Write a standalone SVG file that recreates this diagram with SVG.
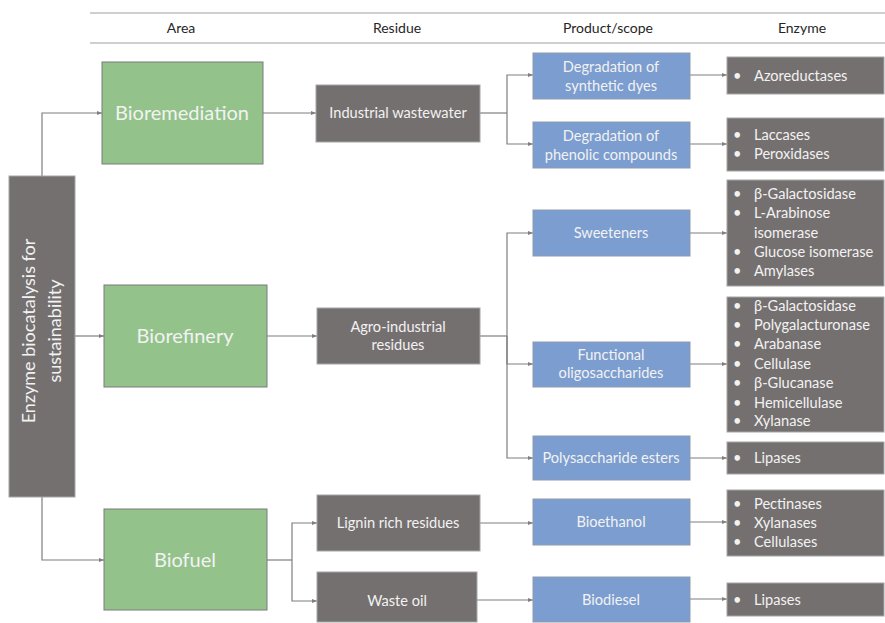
<svg xmlns="http://www.w3.org/2000/svg" width="885" height="623" viewBox="0 0 885 623">
<defs>
<marker id="ah" viewBox="0 0 10 10" refX="10" refY="5" markerWidth="5" markerHeight="5" orient="auto" markerUnits="userSpaceOnUse">
<path d="M0,1 L10,5 L0,9 z" fill="#7f7f7f"/>
</marker>
<style>
text{font-family:Lato,"Open Sans","Liberation Sans",sans-serif;}
.hdr{font-size:14px;fill:#262626;text-anchor:middle;}
.gray{fill:#757070;stroke:#a6a6a6;stroke-width:1;}
.green{fill:#93c38b;stroke:#7a7a7a;stroke-width:1;}
.blue{fill:#7b9dd0;stroke:#8f9bb0;stroke-width:1;}
.wt{fill:#f2f2f2;font-size:14.6px;text-anchor:middle;}
.big{fill:#f2f2f2;font-size:20px;text-anchor:middle;}
.main{fill:#f2f2f2;font-size:18px;text-anchor:middle;}
.en{fill:#f2f2f2;font-size:14.6px;}
.conn path{fill:none;stroke:#7f7f7f;stroke-width:1.2;}
.conn path.a{marker-end:url(#ah);}
</style>
</defs>
<rect width="885" height="623" fill="#ffffff"/>
<g id="header">
<line x1="90" y1="13" x2="885" y2="13" stroke="#bfbfbf" stroke-width="1.5"/>
<line x1="90" y1="43" x2="885" y2="43" stroke="#bfbfbf" stroke-width="1.5"/>
<text class="hdr" x="181" y="33">Area</text>
<text class="hdr" x="397" y="33">Residue</text>
<text class="hdr" x="608" y="33">Product/scope</text>
<text class="hdr" x="802" y="33">Enzyme</text>
</g>
<g class="conn" id="connectors">
<path class="a" d="M42,176 V113 H102"/>
<path class="a" d="M75,336 H104"/>
<path class="a" d="M42,497 V560 H104"/>
<path class="a" d="M263,113 H316"/>
<path class="a" d="M267,336 H317"/>
<path d="M267,560 H292"/>
<path class="a" d="M292,560 V523 H317"/>
<path class="a" d="M292,560 V601 H317"/>
<path d="M480,113 H507"/>
<path class="a" d="M507,113 V75 H533"/>
<path class="a" d="M507,113 V144 H533"/>
<path d="M480,336 H507"/>
<path class="a" d="M507,336 V233 H533"/>
<path class="a" d="M507,336 V364 H533"/>
<path class="a" d="M507,336 V458 H533"/>
<path class="a" d="M480,523 H533"/>
<path class="a" d="M477,600 H533"/>
<path class="a" d="M690,75 H727"/>
<path class="a" d="M690,144 H727"/>
<path class="a" d="M690,233 H727"/>
<path class="a" d="M690,364 H727"/>
<path class="a" d="M690,458 H727"/>
<path class="a" d="M690,522 H727"/>
<path class="a" d="M690,599 H727"/>
</g>
<g id="root">
<rect class="gray" x="9" y="176" width="66" height="321"/>
<text class="main" transform="translate(35,331) rotate(-90)">Enzyme biocatalysis for</text>
<text class="main" transform="translate(61,331) rotate(-90)">sustainability</text>
</g>
<g id="bioremediation">
<rect class="green" x="102" y="62" width="161" height="102"/>
<text class="big" x="182" y="120">Bioremediation</text>
</g>
<g id="biorefinery">
<rect class="green" x="104" y="285" width="163" height="102"/>
<text class="big" x="185" y="343">Biorefinery</text>
</g>
<g id="biofuel">
<rect class="green" x="104" y="509" width="163" height="101"/>
<text class="big" x="185" y="567">Biofuel</text>
</g>
<g id="industrial-wastewater">
<rect class="gray" x="316" y="85" width="164" height="57"/>
<text class="wt" x="398" y="118">Industrial wastewater</text>
</g>
<g id="agro-industrial">
<rect class="gray" x="317" y="308" width="163" height="56"/>
<text class="wt" x="398" y="332">Agro-industrial</text>
<text class="wt" x="398" y="350">residues</text>
</g>
<g id="lignin">
<rect class="gray" x="317" y="495" width="163" height="56"/>
<text class="wt" x="398" y="528">Lignin rich residues</text>
</g>
<g id="waste-oil">
<rect class="gray" x="317" y="572" width="160" height="50"/>
<text class="wt" x="397" y="606">Waste oil</text>
</g>
<g id="synthetic-dyes">
<rect class="blue" x="533" y="53" width="157" height="46"/>
<text class="wt" x="611" y="72">Degradation of</text>
<text class="wt" x="611" y="91">synthetic dyes</text>
</g>
<g id="phenolic">
<rect class="blue" x="533" y="122" width="157" height="46"/>
<text class="wt" x="611" y="141">Degradation of</text>
<text class="wt" x="611" y="160">phenolic compounds</text>
</g>
<g id="sweeteners">
<rect class="blue" x="533" y="210" width="157" height="46"/>
<text class="wt" x="611" y="238">Sweeteners</text>
</g>
<g id="functional">
<rect class="blue" x="533" y="342" width="157" height="45"/>
<text class="wt" x="611" y="360">Functional</text>
<text class="wt" x="611" y="378">oligosaccharides</text>
</g>
<g id="polysaccharide-esters">
<rect class="blue" x="533" y="436" width="157" height="44"/>
<text class="wt" x="611" y="463">Polysaccharide esters</text>
</g>
<g id="bioethanol">
<rect class="blue" x="533" y="499" width="157" height="46"/>
<text class="wt" x="611" y="527">Bioethanol</text>
</g>
<g id="biodiesel">
<rect class="blue" x="533" y="577" width="157" height="45"/>
<text class="wt" x="611" y="605">Biodiesel</text>
</g>
<g id="enz-azo">
<rect class="gray" x="727" y="57" width="157" height="37"/>
<text class="en" x="733" y="81">•</text><text class="en" x="754" y="81">Azoreductases</text>
</g>
<g id="enz-phenolic">
<rect class="gray" x="727" y="118" width="157" height="53"/>
<text class="en" x="733" y="140">•</text><text class="en" x="754" y="140">Laccases</text>
<text class="en" x="733" y="159">•</text><text class="en" x="754" y="159">Peroxidases</text>
</g>
<g id="enz-sweeteners">
<rect class="gray" x="727" y="180" width="157" height="106"/>
<text class="en" x="733" y="199">•</text><text class="en" x="754" y="199">β-Galactosidase</text>
<text class="en" x="733" y="218">•</text><text class="en" x="754" y="218">L-Arabinose</text>
<text class="en" x="754" y="238">isomerase</text>
<text class="en" x="733" y="257">•</text><text class="en" x="754" y="257">Glucose isomerase</text>
<text class="en" x="733" y="276">•</text><text class="en" x="754" y="276">Amylases</text>
</g>
<g id="enz-functional">
<rect class="gray" x="727" y="297" width="157" height="135"/>
<text class="en" x="733" y="311">•</text><text class="en" x="754" y="311">β-Galactosidase</text>
<text class="en" x="733" y="330">•</text><text class="en" x="754" y="330">Polygalacturonase</text>
<text class="en" x="733" y="349">•</text><text class="en" x="754" y="349">Arabanase</text>
<text class="en" x="733" y="369">•</text><text class="en" x="754" y="369">Cellulase</text>
<text class="en" x="733" y="388">•</text><text class="en" x="754" y="388">β-Glucanase</text>
<text class="en" x="733" y="408">•</text><text class="en" x="754" y="408">Hemicellulase</text>
<text class="en" x="733" y="426">•</text><text class="en" x="754" y="426">Xylanase</text>
</g>
<g id="enz-esters">
<rect class="gray" x="727" y="442" width="157" height="32"/>
<text class="en" x="733" y="463">•</text><text class="en" x="754" y="463">Lipases</text>
</g>
<g id="enz-bioethanol">
<rect class="gray" x="727" y="490" width="157" height="66"/>
<text class="en" x="733" y="509">•</text><text class="en" x="754" y="509">Pectinases</text>
<text class="en" x="733" y="528">•</text><text class="en" x="754" y="528">Xylanases</text>
<text class="en" x="733" y="547">•</text><text class="en" x="754" y="547">Cellulases</text>
</g>
<g id="enz-biodiesel">
<rect class="gray" x="727" y="583" width="157" height="33"/>
<text class="en" x="733" y="605">•</text><text class="en" x="754" y="605">Lipases</text>
</g>
</svg>
